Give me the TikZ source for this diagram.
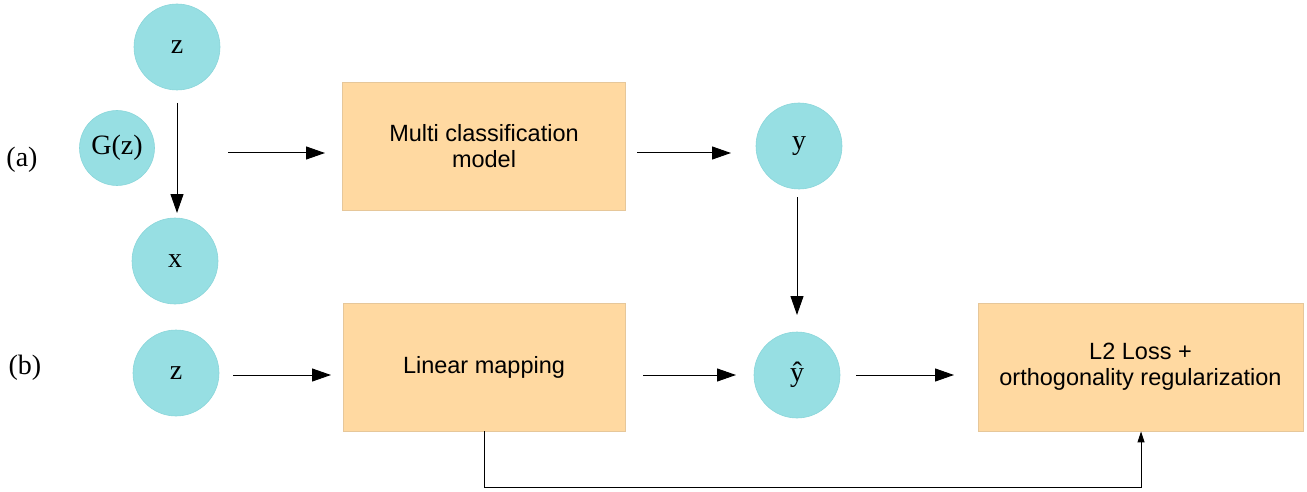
\documentclass[tikz,border=0pt]{standalone}
\usepackage{fontspec}
\setmainfont{Liberation Serif}
\setsansfont{Liberation Sans}
\usetikzlibrary{arrows.meta}
\definecolor{cfill}{HTML}{97DFE3}
\definecolor{cline}{HTML}{8AD6DA}
\definecolor{bfill}{HTML}{FFD9A1}
\definecolor{bline}{HTML}{E6C79A}
\tikzset{
  var/.style={circle, fill=cfill, draw=cline, line width=0.6pt, inner sep=0pt, minimum size=#1, font=\fontsize{28}{30}\selectfont},
  var/.default=86pt,
  blk/.style={rectangle, fill=bfill, draw=bline, line width=0.8pt, inner sep=0pt, align=center, font=\sffamily\fontsize{23.5}{26}\selectfont},
  lab/.style={font=\fontsize{28}{30}\selectfont, inner sep=0pt},
  arr/.style={-{Triangle[length=19pt,width=13pt]}, line width=1pt},
  arrs/.style={-{Triangle[length=11pt,width=7pt]}, line width=1pt},
}
\begin{document}
\begin{tikzpicture}[x=1pt,y=-1pt]
\useasboundingbox (0,0) rectangle (1307,492);
% circles
\node[var] (z1) at (177,47) {z};
\node[var=75pt] (g) at (117,148) {G(z)};
\node[var] (x) at (175,261) {x};
\node[var] (y) at (799,146) {y};
\node[var] (z2) at (176,373) {z};
\node[var] (yh) at (797,375) {ŷ};
% boxes
\node[blk, minimum width=283pt, minimum height=128pt] (mc) at (484,146) {Multi classification\\model};
\node[blk, minimum width=282pt, minimum height=128pt] (lm) at (484,367) {Linear mapping};
\node[blk, minimum width=325pt, minimum height=128pt] (l2) at (1140.5,367) {L2 Loss +\\orthogonality regularization};
% labels
\node[lab] (la) at (22,160) {(a)};
\node[lab] (lb) at (25,368) {(b)};
% connectors
\coordinate (a1s) at (228,153);
\coordinate (a1e) at (325,153);
\coordinate (zd1) at (177,103);
\coordinate (zd2) at (177,213);
\coordinate (my1) at (637,153);
\coordinate (my2) at (731,153);
\coordinate (yd1) at (797,197);
\coordinate (yd2) at (797,315);
\coordinate (b1) at (233,375);
\coordinate (b2) at (331,375);
\coordinate (b3) at (643,375);
\coordinate (b4) at (736,375);
\coordinate (b5) at (856,375);
\coordinate (b6) at (954,375);
\coordinate (c1) at (484,487);
\coordinate (c2) at (1141,487);
\draw[arr] (a1s) -- (a1e);
\draw[arr] (zd1) -- (zd2);
\draw[arr] (my1) -- (my2);
\draw[arr] (yd1) -- (yd2);
\draw[arr] (b1) -- (b2);
\draw[arr] (b3) -- (b4);
\draw[arr] (b5) -- (b6);
\draw[arrs] (lm.south) -- (c1) -- (c2) -- (c2 |- l2.south);
\end{tikzpicture}
\end{document}
